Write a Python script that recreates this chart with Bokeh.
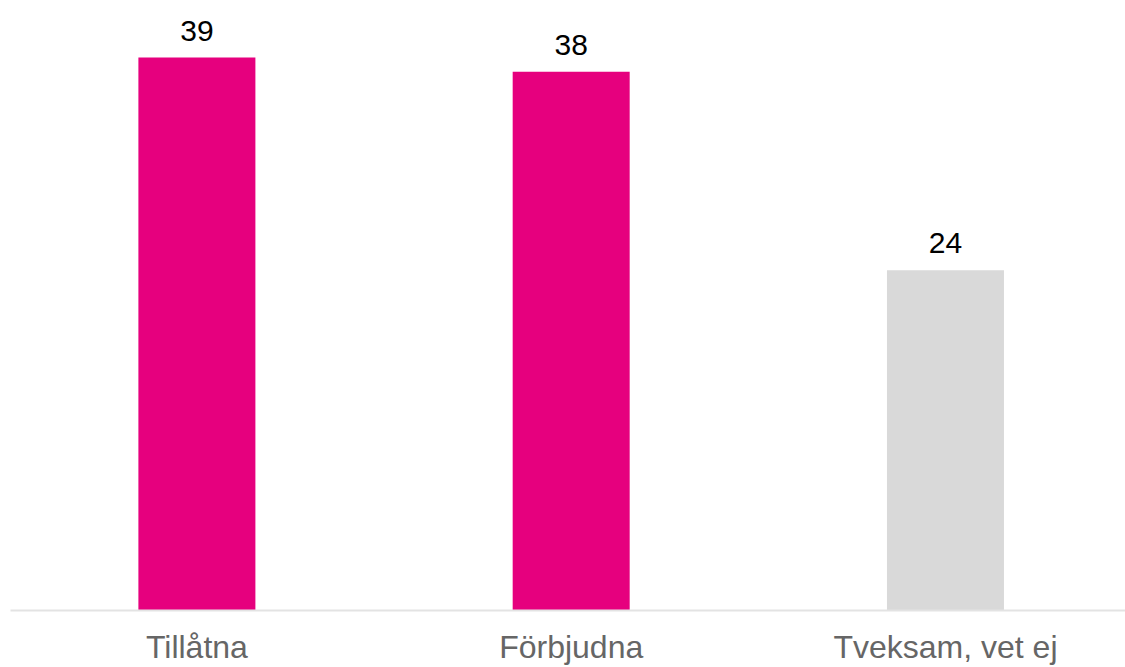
from bokeh.plotting import figure
from bokeh.models import Range1d, FixedTicker, ColumnDataSource
from bokeh.core.properties import value
from bokeh.embed import file_html
from bokeh.resources import INLINE

categories = ["Tillåtna", "Förbjudna", "Tveksam, vet ej"]
values = [39, 38, 24]
colors = ["#E6007E", "#E6007E", "#D9D9D9"]

xs = list(range(len(categories)))
src = ColumnDataSource(dict(x=xs, top=values, color=colors, label=[str(v) for v in values]))

p = figure(width=1125, height=667, output_backend="svg", toolbar_location=None,
           x_range=Range1d(-0.498, 2.481), y_range=Range1d(0, 43.02),
           min_border_left=10, min_border_right=0, min_border_top=0, min_border_bottom=57)
p.outline_line_color = None
p.xgrid.grid_line_color = None
p.ygrid.grid_line_color = None
p.yaxis.visible = False

p.vbar(x="x", top="top", width=0.3126, bottom=0, color="color", line_color=None, source=src)
p.text(x="x", y="top", text="label", source=src, text_align="center", text_baseline="alphabetic",
       y_offset=-27, text_font=value("Liberation Sans"), text_font_size="30px", text_color="#000000")

ax = p.xaxis[0]
ax.ticker = FixedTicker(ticks=xs)
ax.major_label_overrides = {i: c for i, c in enumerate(categories)}
ax.major_tick_line_color = None
ax.minor_tick_line_color = None
ax.axis_line_color = "#E3E3E3"
ax.axis_line_width = 2
ax.major_label_text_font = "Liberation Sans"
ax.major_label_text_font_size = "32px"
ax.major_label_text_color = "#666666"
ax.major_label_standoff = 12

open("out.html", "w").write(file_html(p, INLINE))
